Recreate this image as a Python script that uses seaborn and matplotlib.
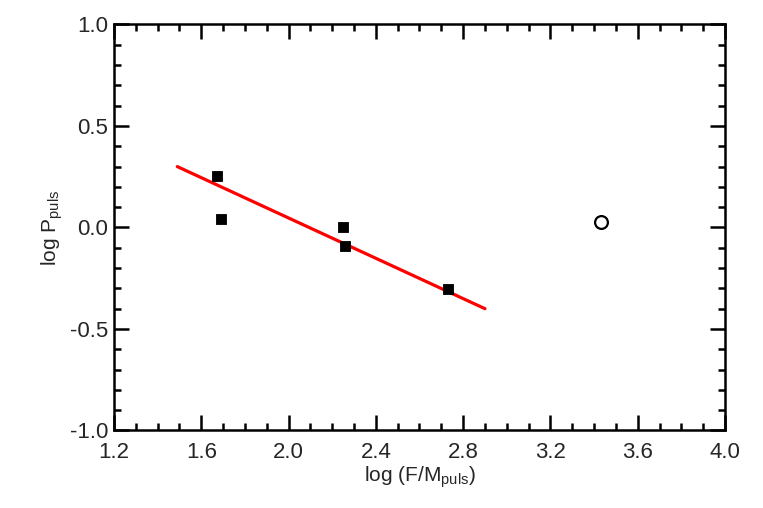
import matplotlib
matplotlib.use('Agg')
import matplotlib.pyplot as plt
import seaborn as sns
import pandas as pd
from matplotlib.ticker import MultipleLocator

# Data
log_fm = [1.67, 1.69, 2.25, 2.26, 2.73]
log_p = [0.255, 0.04, 0.0, -0.09, -0.305]

# open circle outlier
out_fm = [3.43]
out_p = [0.026]

# red linear fit (end points)
fit_fm = [1.49, 2.90]
fit_p = [0.30, -0.40]

sns.set_style('ticks')
plt.rcParams['font.family'] = ['Liberation Sans', 'DejaVu Sans']
plt.rcParams['mathtext.fontset'] = 'custom'
plt.rcParams['mathtext.rm'] = 'Liberation Sans'

fig = plt.figure(figsize=(7.63, 5.08), dpi=100)
ax = fig.add_axes([0.1494, 0.1526, 0.8008, 0.7992])

df = pd.DataFrame({'x': log_fm, 'y': log_p})
fit = pd.DataFrame({'x': fit_fm, 'y': fit_p})

sns.lineplot(data=fit, x='x', y='y', color='#ff0000', lw=2.3, ax=ax)
sns.scatterplot(data=df, x='x', y='y', marker='s', s=60, color='black',
                edgecolor='black', ax=ax, zorder=3)
ax.scatter(out_fm, out_p, marker='o', s=85, facecolor='white',
           edgecolor='black', linewidth=1.6, zorder=3)

ax.set_xlim(1.2, 4.0)
ax.set_ylim(-1.0, 1.0)
ax.xaxis.set_major_locator(MultipleLocator(0.4))
ax.xaxis.set_minor_locator(MultipleLocator(0.1))
ax.yaxis.set_major_locator(MultipleLocator(0.5))
ax.yaxis.set_minor_locator(MultipleLocator(0.1))
ax.xaxis.set_major_formatter(plt.FormatStrFormatter('%.1f'))
ax.yaxis.set_major_formatter(plt.FormatStrFormatter('%.1f'))

ax.tick_params(which='both', direction='in', top=True, right=True, color='black')
ax.tick_params(which='major', length=11, width=1.8, labelsize=16)
ax.tick_params(axis='x', which='major', pad=8)
ax.tick_params(axis='y', which='major', pad=4)
ax.tick_params(which='minor', length=5, width=1.8)
for sp in ax.spines.values():
    sp.set_linewidth(1.8)
    sp.set_color('black')

ax.set_xlabel(r'log (F/M$_{\rm puls}$)', fontsize=15, labelpad=1)
ax.set_ylabel(r'log P$_{\rm puls}$', fontsize=15, labelpad=4)

fig.savefig('out.png', dpi=100)
